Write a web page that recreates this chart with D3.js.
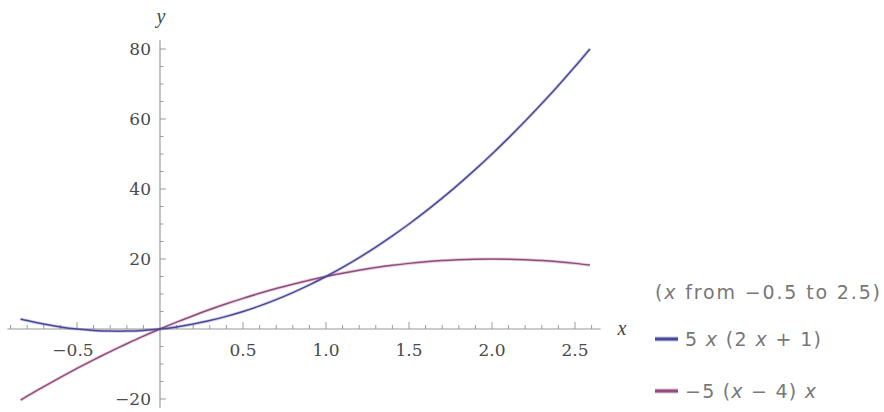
<!DOCTYPE html>
<html><head><meta charset="utf-8">
<script src="https://cdn.jsdelivr.net/npm/d3@7"></script>
<style>body{margin:0;background:#fff}svg{display:block}</style>
</head><body>
<svg id="c" width="884" height="412"></svg>
<script>
const xs = [-0.84,-0.8,-0.7,-0.6,-0.5,-0.4,-0.3,-0.25,-0.2,-0.1,0,0.1,0.2,0.3,0.4,0.5,0.6,0.7,0.8,0.9,1.0,1.1,1.2,1.3,1.4,1.5,1.6,1.7,1.8,1.9,2.0,2.1,2.2,2.3,2.4,2.5,2.59];
const seriesA = [2.86,2.4,1.4,0.6,0,-0.4,-0.6,-0.625,-0.6,-0.4,0,0.6,1.4,2.4,3.6,5,6.6,8.4,10.4,12.6,15,17.6,20.4,23.4,26.6,30,33.6,37.4,41.4,45.6,50,54.6,59.4,64.4,69.6,75,80.03];
const seriesB = [-20.33,-19.2,-16.45,-13.8,-11.25,-8.8,-6.45,-5.31,-4.2,-2.05,0,1.95,3.8,5.55,7.2,8.75,10.2,11.55,12.8,13.95,15,15.95,16.8,17.55,18.2,18.75,19.2,19.55,19.8,19.95,20,19.95,19.8,19.55,19.2,18.75,18.26];
const xTicks = [-0.5,0.5,1.0,1.5,2.0,2.5];
const xTickLabels = ["\u22120.5","0.5","1.0","1.5","2.0","2.5"];
const yTicks = [-20,20,40,60,80];
const yTickLabels = ["\u221220","20","40","60","80"];
const legendTitle = ["(","x"," from \u22120.5 to 2.5)"];
const legendNames = [["5 ","x"," (2 ","x"," + 1)"],["\u22125 (","x"," \u2212 4) ","x"]];
const colors = ["#48489a","#934a7d"];

const svg = d3.select("#c");
const x = d3.scaleLinear().domain([0,1]).range([160,326]);
const y = d3.scaleLinear().domain([0,80]).range([329,49]);
const axisColor = "#9a9a9a";

// x axis
const gx = svg.append("g").attr("transform",`translate(0,${y(0)})`);
gx.append("line").attr("x1",x(-0.92)).attr("x2",x(2.655)).attr("stroke",axisColor).attr("stroke-width",1.2);
const minorX = d3.range(-9,27).map(i=>i/10).filter(v=>Math.abs(v)>1e-9);
gx.selectAll("line.t").data(minorX).enter().append("line")
  .attr("x1",d=>x(d)).attr("x2",d=>x(d))
  .attr("y1",0).attr("y2",d=>Math.abs(Math.round(d*2)-d*2)<1e-6?-7:-4)
  .attr("stroke",axisColor).attr("stroke-width",1);
gx.selectAll("text").data(xTicks).enter().append("text")
  .attr("x",d=>x(d)-(d<0?4:0)).attr("y",27).attr("text-anchor","middle")
  .attr("font-family","DejaVu Serif").attr("font-size",17).attr("fill","#4a4a4a")
  .text((d,i)=>xTickLabels[i]);

// y axis
const gy = svg.append("g").attr("transform",`translate(${x(0)},0)`);
gy.append("line").attr("y1",y(82.5)).attr("y2",y(-22.5)).attr("stroke",axisColor).attr("stroke-width",1.2);
const minorY = d3.range(-4,17).map(i=>i*5).filter(v=>v!==0);
gy.selectAll("line.t").data(minorY).enter().append("line")
  .attr("y1",d=>y(d)).attr("y2",d=>y(d))
  .attr("x1",0).attr("x2",d=>d%20===0?6:3.5)
  .attr("stroke",axisColor).attr("stroke-width",1);
gy.selectAll("text").data(yTicks).enter().append("text")
  .attr("x",-9).attr("y",d=>y(d)).attr("dy","0.36em").attr("text-anchor","end")
  .attr("font-family","DejaVu Serif").attr("font-size",17).attr("fill","#4a4a4a")
  .text((d,i)=>yTickLabels[i]);

// axis labels
svg.append("text").attr("x",x(0)+1).attr("y",23).attr("text-anchor","middle")
  .attr("font-family","Liberation Serif").attr("font-style","italic").attr("font-size",20).attr("fill","#444").text("y");
svg.append("text").attr("x",622).attr("y",y(0)+6).attr("text-anchor","middle")
  .attr("font-family","Liberation Serif").attr("font-style","italic").attr("font-size",20).attr("fill","#444").text("x");

// curves
const line = d3.line().x((d,i)=>x(xs[i])).y(d=>y(d)).curve(d3.curveCatmullRom);
[seriesB, seriesA].forEach((s,k)=>{
  const c = k===0?colors[1]:colors[0];
  svg.append("path").attr("d",line(s)).attr("fill","none").attr("stroke",c).attr("stroke-opacity",0.25).attr("stroke-width",3.2);
  svg.append("path").attr("d",line(s)).attr("fill","none").attr("stroke",c).attr("stroke-width",1.5);
});

// legend
function addText(parts, tx, ty, len){
  const t = svg.append("text").attr("x",tx).attr("y",ty).attr("font-family","DejaVu Sans").attr("font-size",19).attr("fill","#777")
    .attr("textLength",len).attr("lengthAdjust","spacing");
  parts.forEach(p=>{ const s=t.append("tspan").text(p); if(p==="x") s.attr("font-style","italic"); });
}
addText(legendTitle, 655, 299, 225);
const legendLens = [136, 131];
legendNames.forEach((parts,i)=>{
  const ly = 339 + i*52;
  svg.append("line").attr("x1",655).attr("x2",678).attr("y1",ly).attr("y2",ly).attr("stroke",colors[i]).attr("stroke-opacity",0.3).attr("stroke-width",5);
  svg.append("line").attr("x1",655).attr("x2",678).attr("y1",ly).attr("y2",ly).attr("stroke",colors[i]).attr("stroke-width",3);
  addText(parts, 685, ly+7, legendLens[i]);
});
</script>
</body></html>
